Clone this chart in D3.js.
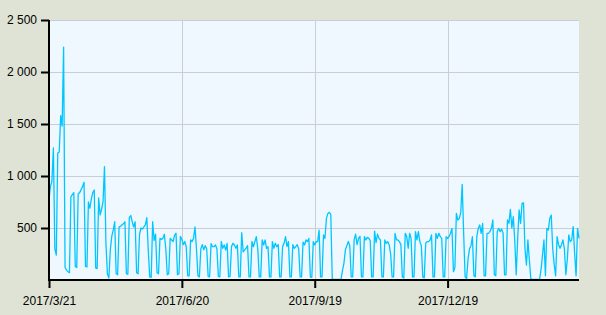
<!DOCTYPE html>
<html>
<head>
<meta charset="utf-8">
<script src="https://cdn.jsdelivr.net/npm/d3@7"></script>
<style>
  body { margin: 0; background: #dee3d5; }
  svg { display: block; }
  .axis text { font: 12px "Liberation Sans", Arial, sans-serif; fill: #000; }
</style>
</head>
<body>
<svg width="606" height="315"></svg>
<script>
// daily values, one array per month (first one starts 2017/3/21)
let mar17 = [770, 900, 950, 1270, 300, 240, 1220, 1230, 1580, 1480, 2240];
let apr17 = [120, 95, 80, 70, 800, 820, 840, 130, 120, 830, 840, 870, 900, 940, 130, 125,
    750, 690, 780, 840, 865, 115, 110, 790, 625, 680, 750, 1090, 350, 60];
let may17 = [20, 290, 420, 480, 560, 60, 50, 510, 515, 530, 540, 560, 60, 55, 600, 620,
    560, 510, 560, 70, 60, 440, 500, 490, 510, 530, 600, 280, 30, 25, 560];
let jun17 = [380, 440, 70, 60, 400, 390, 400, 440, 300, 50, 60, 400, 385, 370, 430, 450,
    50, 60, 420, 390, 340, 370, 320, 40, 40, 385, 370, 400, 510, 300];
let jul17 = [40, 30, 300, 340, 290, 330, 300, 35, 30, 350, 320, 320, 337, 300, 35, 30,
    370, 305, 337, 288, 353, 30, 35, 321, 353, 337, 305, 337, 30, 30, 455];
let aug17 = [270, 290, 305, 330, 30, 30, 370, 320, 370, 417, 300, 30, 30, 385, 337, 385,
    305, 320, 30, 30, 369, 305, 353, 320, 340, 30, 30, 321, 353, 417, 321];
let sep17 = [370, 30, 30, 340, 305, 320, 340, 300, 30, 30, 365, 337, 385, 369, 400, 30,
    25, 369, 337, 369, 369, 480, 30, 30, 433, 400, 590, 640, 650, 630];
let oct17 = [10, 5, 5, 5, 5, 5, 5, 90, 160, 290, 330, 370, 330, 30, 30, 385,
    440, 340, 400, 420, 30, 30, 417, 385, 410, 400, 380, 30, 30, 470, 360];
let nov17 = [440, 400, 385, 30, 30, 385, 353, 369, 337, 250, 30, 30, 449, 385, 385, 369,
    340, 30, 20, 449, 417, 305, 449, 400, 30, 30, 465, 385, 465, 369];
let dec17 = [330, 30, 20, 353, 369, 369, 385, 433, 30, 30, 449, 400, 449, 417, 400, 30,
    30, 417, 400, 417, 450, 497, 80, 120, 640, 577, 590, 650, 920, 450, 30];
let jan18 = [15, 200, 300, 330, 417, 40, 30, 417, 497, 529, 449, 545, 40, 40, 449, 449,
    465, 497, 577, 50, 40, 465, 497, 465, 490, 449, 50, 50, 577, 545, 680];
let feb18 = [500, 609, 380, 50, 400, 673, 545, 737, 743, 300, 144, 385, 192, 15, 5, 5,
    5, 5, 5, 5, 100, 240, 385, 40, 497, 480, 593, 625];
let mar18 = [300, 150, 40, 417, 340, 305, 340, 385, 300, 50, 200, 433, 369, 385, 513, 260,
    40, 497, 400];

let tickDates = ["2017-03-21", "2017-06-20", "2017-09-19", "2017-12-19"];
let yTicks = [500, 1000, 1500, 2000, 2500];

let width = 606,
    height = 315;
let margin = {top: 20, right: 27, bottom: 35, left: 49};

let parseDay = d3.timeParse("%Y-%m-%d");

let months = [
    {start: "2017-03-21", values: mar17},
    {start: "2017-04-01", values: apr17},
    {start: "2017-05-01", values: may17},
    {start: "2017-06-01", values: jun17},
    {start: "2017-07-01", values: jul17},
    {start: "2017-08-01", values: aug17},
    {start: "2017-09-01", values: sep17},
    {start: "2017-10-01", values: oct17},
    {start: "2017-11-01", values: nov17},
    {start: "2017-12-01", values: dec17},
    {start: "2018-01-01", values: jan18},
    {start: "2018-02-01", values: feb18},
    {start: "2018-03-01", values: mar18}
];

let data = [];
months.forEach(m => {
    let d0 = parseDay(m.start);
    m.values.forEach((v, i) => data.push({date: d3.timeDay.offset(d0, i), value: v}));
});

let x = d3.scaleTime()
    .domain(d3.extent(data, d => d.date))
    .range([margin.left, width - margin.right]);

let y = d3.scaleLinear()
    .domain([0, 2500])
    .range([height - margin.bottom, margin.top]);

let fmt = d3.formatLocale({decimal: ".", thousands: " ", grouping: [3], currency: ["", ""]}).format(",");

let svg = d3.select("svg");

svg.append("rect")
    .attr("x", margin.left)
    .attr("y", margin.top)
    .attr("width", width - margin.left - margin.right)
    .attr("height", height - margin.top - margin.bottom)
    .attr("fill", "#f0f8ff");

// grid
svg.append("g")
    .selectAll("line")
    .data(yTicks)
    .join("line")
    .attr("x1", margin.left)
    .attr("x2", width - margin.right)
    .attr("y1", d => Math.round(y(d)) + 0.5)
    .attr("y2", d => Math.round(y(d)) + 0.5)
    .attr("stroke", "#c8cdd6");

svg.append("g")
    .selectAll("line")
    .data(tickDates.map(parseDay))
    .join("line")
    .attr("x1", d => Math.round(x(d)) + 0.5)
    .attr("x2", d => Math.round(x(d)) + 0.5)
    .attr("y1", margin.top)
    .attr("y2", height - margin.bottom)
    .attr("stroke", "#c8cdd6");

let line = d3.line()
    .x(d => x(d.date))
    .y(d => y(d.value));

svg.append("path")
    .datum(data)
    .attr("fill", "none")
    .attr("stroke", "#00c6ff")
    .attr("stroke-width", 1.3)
    .attr("stroke-linejoin", "round")
    .attr("d", line);

// axes
let yAxis = svg.append("g")
    .attr("class", "axis")
    .attr("transform", `translate(${margin.left},0)`)
    .call(d3.axisLeft(y).tickValues(yTicks).tickSize(8).tickPadding(4).tickFormat(fmt));

let xAxis = svg.append("g")
    .attr("class", "axis")
    .attr("transform", `translate(0,${height - margin.bottom})`)
    .call(d3.axisBottom(x).tickValues(tickDates.map(parseDay)).tickSize(8).tickPadding(8)
        .tickFormat(d3.timeFormat("%Y/%-m/%-d")));

svg.selectAll(".axis .domain").remove();
svg.selectAll(".axis .tick line")
    .attr("stroke", "#000")
    .attr("stroke-width", 2);

svg.append("line")
    .attr("x1", margin.left)
    .attr("x2", margin.left)
    .attr("y1", margin.top)
    .attr("y2", height - margin.bottom + 1)
    .attr("stroke", "#000")
    .attr("stroke-width", 2);

svg.append("line")
    .attr("x1", margin.left - 1)
    .attr("x2", width - margin.right)
    .attr("y1", height - margin.bottom)
    .attr("y2", height - margin.bottom)
    .attr("stroke", "#000")
    .attr("stroke-width", 2);
</script>
</body>
</html>
